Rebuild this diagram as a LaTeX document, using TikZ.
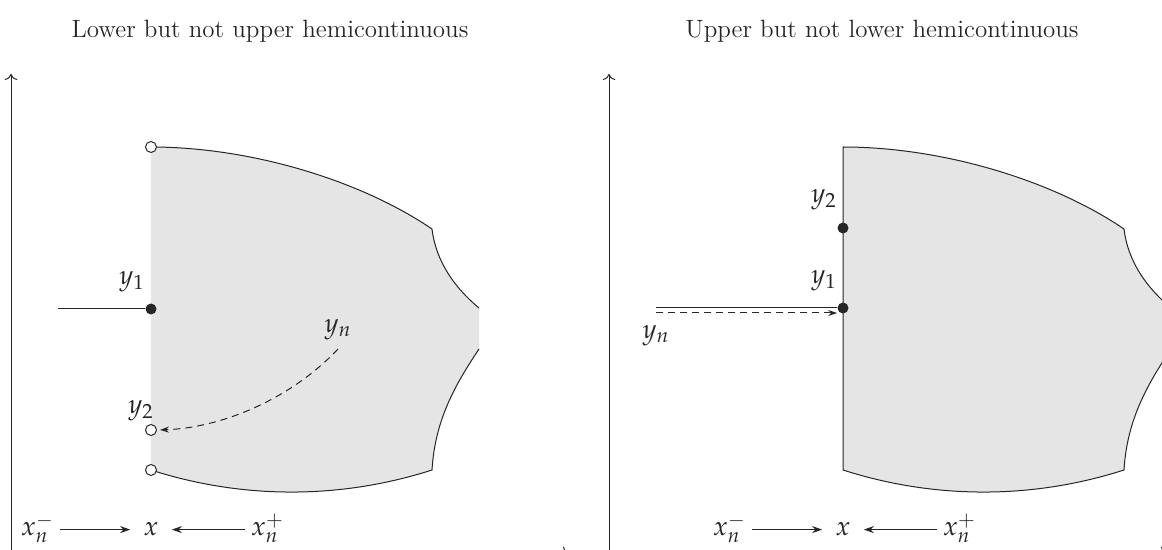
\documentclass[tikz,border=0pt]{standalone}
\usepackage{mathpazo}
\renewcommand{\rmdefault}{ppl}
\usetikzlibrary{arrows.meta}

\begin{document}
\begin{tikzpicture}[x=0.5pt, y=-0.5pt, >={Stealth[length=5pt, width=3.5pt]},
    every node/.style={font=\fontsize{13.5}{16}\selectfont, text=black!85},
    heading/.style={anchor=base, font=\fontsize{12.5}{15}\selectfont},
    region/.style={fill=black!10},
    rim/.style={draw=black!85, line width=0.5pt},
    dot/.style={circle, fill=black!85, inner sep=0pt, minimum size=5.5pt},
    hollow/.style={circle, draw=black!85, line width=0.5pt, fill=white, inner sep=0pt, minimum size=5.5pt},
    lbl/.style={inner sep=3pt, anchor=base},
    track/.style={rim, dash pattern=on 3.5pt off 2.5pt, ->, >={Stealth[length=4.5pt, width=3pt]}},
    axis/.style={rim, -{To[length=3pt]}}]
    \useasboundingbox (0,0) rectangle (1162,550);

    % left: lower but not upper
    \node[heading] (ttlL) at (270,38) {Lower but not upper hemicontinuous};
    \coordinate (oL) at (11,553);
    \coordinate (yaxL) at (11,74);
    \coordinate (xaxL) at (569,553);
    \draw[axis] (oL) -- (yaxL);
    \draw[axis] (oL) -- (xaxL);

    \fill[region] (151,147) .. controls (250,147) and (360,180) .. (432,229)
        .. controls (436,262) and (455,288) .. (479,308) -- (479,349)
        .. controls (455,385) and (435,420) .. (432,470)
        .. controls (340.6,499.4) and (242.4,499.4) .. (151,470) -- cycle;
    \draw[rim] (151,147) .. controls (250,147) and (360,180) .. (432,229)
        .. controls (436,262) and (455,288) .. (479,308);
    \draw[rim] (479,349) .. controls (455,385) and (435,420) .. (432,470)
        .. controls (340.6,499.4) and (242.4,499.4) .. (151,470);

    \coordinate (inL) at (58,309);
    \node[dot] (y1L) at (151,309) {};
    \draw[rim] (inL) -- (y1L);
    \node[hollow] (topL) at (151,147) {};
    \node[hollow] (y2L) at (151,430) {};
    \node[hollow] (botL) at (151,470) {};
    \node (ly1L) at (132,282) {$y_1$};
    \node (ly2L) at (141,411) {$y_2$};
    \node (lynL) at (338,330) {$y_n$};
    \coordinate (ynL) at (338,349);
    \draw[track, shorten >=1.5pt] (ynL) .. controls (290,400) and (220,428) .. (y2L.east);

    \node[lbl] (xmL) at (37.5,536) {$x_n^-$};
    \node[lbl] (xL) at (151,536) {$x$};
    \node[lbl] (xpL) at (267.5,536) {$x_n^+$};
    \draw[rim, ->, shorten >=3.5pt] (xmL.east |- xL) -- (xL.west);
    \draw[rim, ->, shorten >=3.5pt] (xpL.west |- xL) -- (xL.east);

    % right: upper but not lower
    \node[heading] (ttlR) at (882,38) {Upper but not lower hemicontinuous};
    \coordinate (oR) at (609,553);
    \coordinate (yaxR) at (609,74);
    \coordinate (xaxR) at (1167,553);
    \draw[axis] (oR) -- (yaxR);
    \draw[axis] (oR) -- (xaxR);

    \begin{scope}[shift={(692,0)}]
    \fill[region] (151,147) .. controls (250,147) and (360,180) .. (432,229)
        .. controls (436,262) and (455,288) .. (479,308) -- (479,349)
        .. controls (455,385) and (435,420) .. (432,470)
        .. controls (340.6,499.4) and (242.4,499.4) .. (151,470) -- cycle;
    \draw[rim] (479,349) .. controls (455,385) and (435,420) .. (432,470)
        .. controls (340.6,499.4) and (242.4,499.4) .. (151,470) -- (151,147)
        .. controls (250,147) and (360,180) .. (432,229)
        .. controls (436,262) and (455,288) .. (479,308);

    \node[lbl] (xmR) at (37.5,536) {$x_n^-$};
    \node[lbl] (xR) at (151,536) {$x$};
    \node[lbl] (xpR) at (267.5,536) {$x_n^+$};
    \draw[rim, ->, shorten >=3.5pt] (xmR.east |- xR) -- (xR.west);
    \draw[rim, ->, shorten >=3.5pt] (xpR.west |- xR) -- (xR.east);
    \end{scope}

    \coordinate (inR) at (656,308);
    \node[dot] (y1R) at (843,308) {};
    \node[dot] (y2R) at (843,228) {};
    \draw[rim] (inR) -- (y1R);
    \coordinate (ynR) at (656,313);
    \draw[track] (ynR) -- (ynR -| y1R.west);
    \node (ly1R) at (824,281) {$y_1$};
    \node (ly2R) at (824,200) {$y_2$};
    \node (lynR) at (656,336) {$y_n$};
\end{tikzpicture}
\end{document}
